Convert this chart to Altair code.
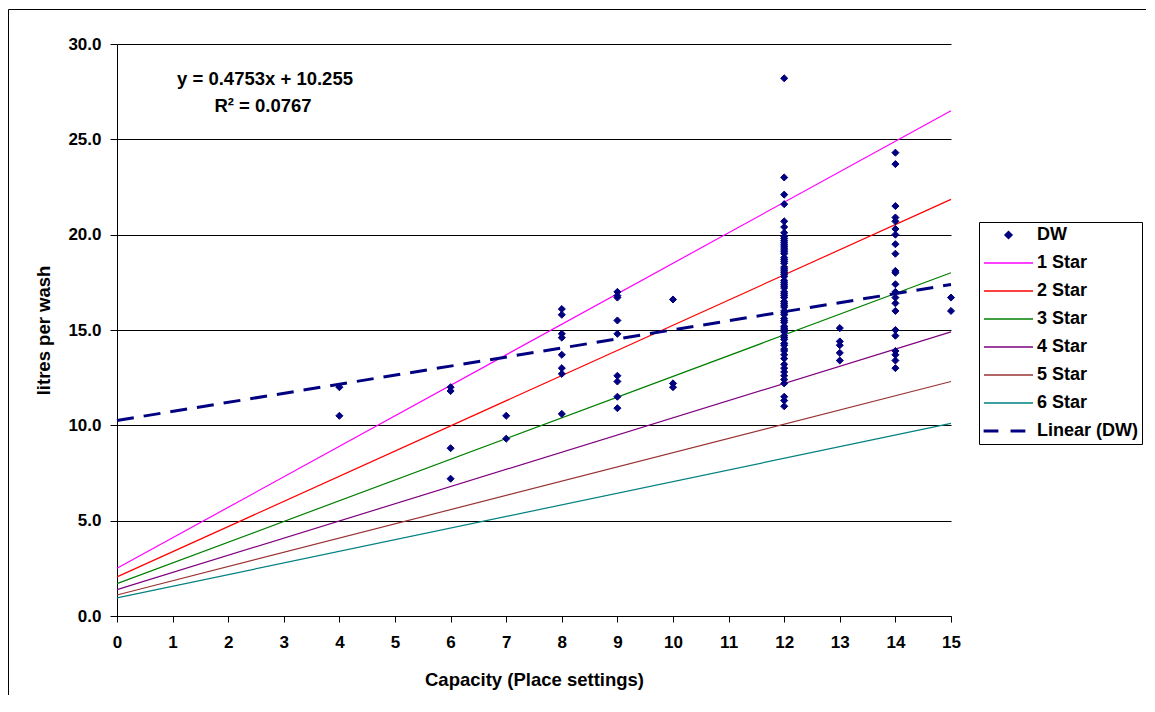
import altair as alt
import pandas as pd

# ---------------- data ----------------
capacity_ticks = list(range(0, 16))
litre_ticks = [0, 5, 10, 15, 20, 25, 30]

dw_cap4 = [12.0, 10.5]
dw_cap6 = [12.0, 11.8, 8.8, 7.2]
dw_cap7 = [10.5, 9.3]
dw_cap8 = [16.1, 15.8, 14.8, 14.6, 13.7, 13.0, 12.7, 10.6]
dw_cap9 = [17.0, 16.8, 16.7, 15.5, 14.8, 12.6, 12.3, 11.5, 10.9]
dw_cap10 = [16.6, 12.2, 12.0]
dw_cap12 = [28.2, 23.0, 22.1, 21.6, 20.7, 20.4, 20.1, 19.9, 19.8, 19.7, 19.6,
            19.5, 19.4, 19.3, 19.2, 19.1, 19.0, 18.8, 18.7, 18.6, 18.5, 18.3,
            18.2, 18.1, 18.0, 17.9, 17.8, 17.6, 17.5, 17.4, 17.3, 17.2, 17.0,
            16.9, 16.8, 16.7, 16.5, 16.4, 16.3, 16.2, 16.0, 15.9, 15.8, 15.6,
            15.5, 15.4, 15.2, 15.1, 15.0, 14.9, 14.7, 14.6, 14.5, 14.3, 14.2,
            14.0, 13.9, 13.7, 13.5, 13.2, 13.0, 12.8, 12.6, 12.4, 12.2, 11.5,
            11.3, 11.0]
dw_cap13 = [15.1, 14.4, 14.2, 13.8, 13.4]
dw_cap14 = [24.3, 23.7, 21.5, 20.9, 20.7, 20.3, 20.0, 19.5, 19.0, 18.1, 18.0,
            17.4, 17.0, 16.7, 16.4, 16.0, 15.0, 14.7, 13.9, 13.7, 13.4, 13.0]
dw_cap15 = [16.7, 16.0]

series_names = ["DW", "1 Star", "2 Star", "3 Star", "4 Star", "5 Star",
                "6 Star", "Linear (DW)"]
series_colors = ["#000080", "#FF00FF", "#FF0000", "#008000", "#800080",
                 "#993333", "#008080", "#000080"]

star_names = ["1 Star", "2 Star", "3 Star", "4 Star", "5 Star", "6 Star"]
star_line_x = [0, 15]
star_at_0 = [2.5, 2.05, 1.7, 1.38, 1.1, 0.95]
star_at_15 = [26.5, 21.85, 18.0, 14.9, 12.3, 10.1]

trend_x = [0, 15]
trend_y = [10.255, 17.385]

equation_text = "y = 0.4753x + 10.255"
r2_text = "R² = 0.0767"

# ---------------- tables ----------------
dw_groups = [(4, dw_cap4), (6, dw_cap6), (7, dw_cap7), (8, dw_cap8),
             (9, dw_cap9), (10, dw_cap10), (12, dw_cap12), (13, dw_cap13),
             (14, dw_cap14), (15, dw_cap15)]
dw_rows = []
for cap, vals in dw_groups:
    for v in vals:
        dw_rows.append({"cap": cap, "val": v, "series": "DW"})
dw_df = pd.DataFrame(dw_rows)

star_rows = []
for name, a, b in zip(star_names, star_at_0, star_at_15):
    star_rows.append({"cap": star_line_x[0], "val": a, "series": name})
    star_rows.append({"cap": star_line_x[1], "val": b, "series": name})
star_df = pd.DataFrame(star_rows)

trend_df = pd.DataFrame({"cap": trend_x, "val": trend_y})

FONT = "Liberation Sans"
FS_TICK = 17
FS_TEXT = 18.5
FS_LEGEND = 18

line_shape = "M-7,0H7"
dash_shape = "M-6.9,-0.21H-3.1V0.21H-6.9Z M0.8,-0.21H4.6V0.21H0.8Z"
shape_range = ["diamond"] + [line_shape] * 6 + [dash_shape]
fill_range = ["#000080"] + ["transparent"] * 6 + ["#000080"]

x_scale = alt.Scale(domain=[0, 15], nice=False, zero=False)
y_scale = alt.Scale(domain=[0, 30], nice=False)

x_enc = alt.X("cap:Q", scale=x_scale,
              axis=alt.Axis(values=capacity_ticks, format="d", grid=False,
                            labelFlush=False,
                            title="Capacity (Place settings)",
                            titleY=63, titleBaseline="middle"))
y_enc = alt.Y("val:Q", scale=y_scale,
              axis=alt.Axis(values=litre_ticks, format=".1f", grid=True,
                            labelFlush=False,
                            title="litres per wash",
                            titleX=-74, titleY=286, titleBaseline="middle",
                            titleAngle=-90))

color_scale = alt.Scale(domain=series_names, range=series_colors)

one_row = pd.DataFrame({"a": [0]})
frame_top = alt.Chart(one_row).mark_rule(color="black", strokeWidth=1).encode(
    x=alt.value(-108.5), x2=alt.value(1029), y=alt.value(-34.5))
frame_left = alt.Chart(one_row).mark_rule(color="black", strokeWidth=1).encode(
    x=alt.value(-108.5), y=alt.value(-34.5), y2=alt.value(651))

stars = alt.Chart(star_df).mark_line(strokeWidth=1.2).encode(
    x=x_enc, y=y_enc,
    color=alt.Color("series:N", scale=color_scale),
)

points = alt.Chart(dw_df).mark_point(
    filled=False, size=50, strokeWidth=1, opacity=1
).encode(
    x=x_enc, y=y_enc,
    color=alt.Color("series:N", scale=color_scale, legend=alt.Legend(title=None)),
    fill=alt.Fill("series:N", scale=alt.Scale(domain=series_names, range=fill_range),
                  legend=alt.Legend(title=None)),
    shape=alt.Shape("series:N", scale=alt.Scale(domain=series_names, range=shape_range),
                    legend=alt.Legend(title=None)),
)

trend = alt.Chart(trend_df).mark_line(
    color="#000080", strokeWidth=3, strokeDash=[17, 10]
).encode(x=x_enc, y=y_enc)

eq = alt.Chart(one_row).mark_text(
    font=FONT, fontSize=FS_TEXT, fontWeight="bold", color="black", align="center"
).encode(x=alt.value(148), y=alt.value(35), text=alt.value(equation_text))

r2 = alt.Chart(one_row).mark_text(
    font=FONT, fontSize=FS_TEXT, fontWeight="bold", color="black", align="center"
).encode(x=alt.value(146), y=alt.value(62), text=alt.value(r2_text))

chart = alt.layer(frame_top, frame_left, stars, points, trend, eq, r2).properties(
    width=834, height=572,
    autosize=alt.AutoSizeParams(type="none"),
    padding={"left": 109, "top": 36, "right": 196, "bottom": 80},
    background="white",
).configure_view(stroke=None).configure_axis(
    labelFont=FONT, labelFontSize=FS_TICK, labelFontWeight="bold", labelColor="black",
    titleFont=FONT, titleFontSize=FS_TEXT, titleFontWeight="bold", titleColor="black",
    domainColor="black", domainWidth=1, tickColor="black", tickWidth=1,
    gridColor="black", gridWidth=1, gridOpacity=1,
).configure_axisY(
    tickSize=7, labelPadding=9,
).configure_axisX(
    tickSize=6, labelPadding=12,
).configure_legend(
    orient="none", legendX=862, legendY=178,
    strokeColor="black", fillColor="white", padding=4,
    labelFont=FONT, labelFontSize=FS_LEGEND, labelFontWeight="bold", labelColor="black",
    symbolSize=49, symbolStrokeWidth=1.5, symbolOffset=16.5, labelOffset=19.5,
    rowPadding=10, symbolFillColor="transparent",
)

chart.save("out.html", embed_options={"renderer": "svg", "actions": False})
